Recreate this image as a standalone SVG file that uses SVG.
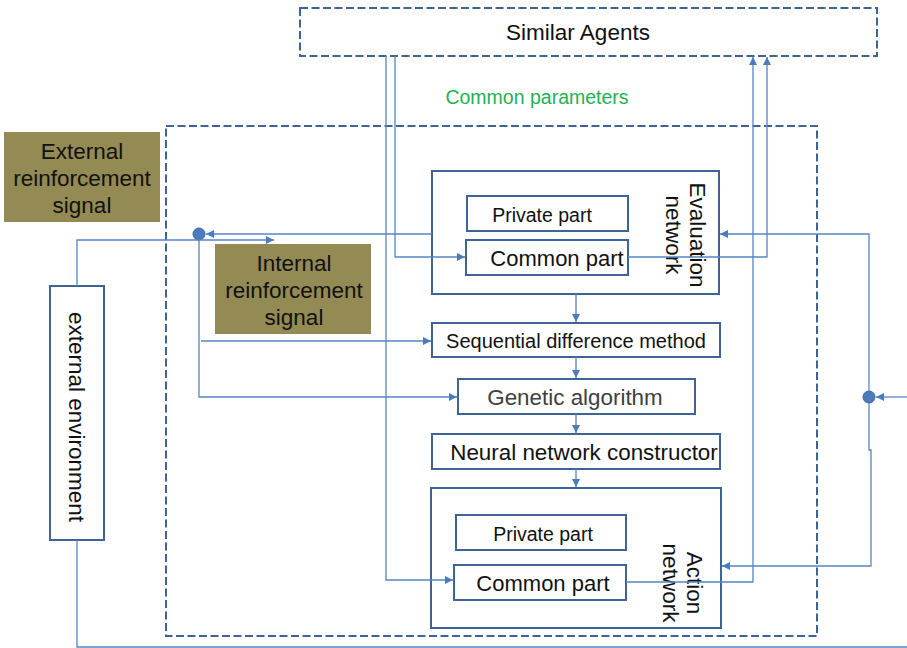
<svg xmlns="http://www.w3.org/2000/svg" width="907" height="648" viewBox="0 0 907 648">
<defs>
<style>
.box{fill:#fff;stroke:#3E6497;stroke-width:2}
.dash{fill:none;stroke:#3E6497;stroke-width:2;stroke-dasharray:8,3.5}
.olive{fill:#948A54;stroke:none}
.c{fill:none;stroke:#5585C5;stroke-width:1.3}
text{font-family:"Liberation Sans",Arial,sans-serif;fill:#111;text-anchor:middle}
.dot{fill:#4A7BBD;stroke:#3E6497;stroke-width:1}
</style>
<marker id="a" viewBox="0 0 10 10" refX="10" refY="5" markerWidth="8" markerHeight="8" markerUnits="userSpaceOnUse" orient="auto"><path d="M0,0L10,5L0,10z" fill="#4A7BBD"/></marker>
</defs>
<g id="similar-agents"><rect class="dash" x="300" y="8" width="577" height="48"/><text x="578" y="40" font-size="22.5">Similar Agents</text></g>
<g id="common-parameters"><text x="537" y="104" font-size="19.5" style="fill:#1DB34F">Common parameters</text></g>
<g id="agent-boundary"><rect class="dash" x="166" y="126" width="651" height="510"/></g>
<g id="external-signal"><rect class="olive" x="4" y="132" width="156" height="90"/><text font-size="22.5"><tspan x="82" y="159">External</tspan><tspan x="82" y="186">reinforcement</tspan><tspan x="82" y="213">signal</tspan></text></g>
<g id="internal-signal"><rect class="olive" x="215" y="244" width="156" height="90"/><text font-size="22.5"><tspan x="294" y="271">Internal</tspan><tspan x="294" y="298">reinforcement</tspan><tspan x="294" y="325">signal</tspan></text></g>
<g id="external-environment"><rect class="box" x="50" y="286" width="54" height="254"/><text transform="translate(77,417) rotate(90)" y="8" font-size="22.5">external environment</text></g>
<g id="evaluation-network"><rect class="box" x="432" y="171" width="287" height="123"/>
<rect class="box" x="467" y="196" width="161" height="35"/><text x="542" y="222" font-size="19.5">Private part</text>
<rect class="box" x="466" y="240" width="162" height="35"/><text x="557" y="266" font-size="22">Common part</text>
<text transform="translate(683,235) rotate(90)" font-size="22.5"><tspan x="0" y="-7">Evaluation</tspan><tspan x="0" y="17">network</tspan></text></g>
<g id="sequential-difference"><rect class="box" x="432" y="323" width="288" height="34"/><text x="576" y="348" font-size="20">Sequential difference method</text></g>
<g id="genetic-algorithm"><rect class="box" x="458" y="379" width="237" height="35"/><text x="575" y="405" font-size="22.4" style="fill:#404040">Genetic algorithm</text></g>
<g id="nn-constructor"><rect class="box" x="432" y="434" width="288" height="35"/><text x="584" y="460" font-size="22.4">Neural network constructor</text></g>
<g id="action-network"><rect class="box" x="431" y="488" width="290" height="140"/>
<rect class="box" x="456" y="515" width="170" height="35"/><text x="543" y="541" font-size="19.5">Private part</text>
<rect class="box" x="454" y="565" width="172" height="35"/><text x="543" y="591" font-size="22">Common part</text>
<text transform="translate(680,583) rotate(90)" font-size="22.5"><tspan x="0" y="-7">Action</tspan><tspan x="0" y="17">network</tspan></text></g>
<g id="junction-left"><circle class="dot" cx="199" cy="234" r="6"/></g>
<g id="junction-right"><circle class="dot" cx="869" cy="397" r="6"/></g>
<g id="connectors">
<path class="c" d="M432,234H206" marker-end="url(#a)"/>
<path class="c" d="M77,286V240H274" marker-end="url(#a)"/>
<path class="c" d="M199,240V397H457" marker-end="url(#a)"/>
<path class="c" d="M201,341H431" marker-end="url(#a)"/>
<path class="c" d="M395,56V257H465" marker-end="url(#a)"/>
<path class="c" d="M386,56V580H453" marker-end="url(#a)"/>
<path class="c" d="M628,257H767V57" marker-end="url(#a)"/>
<path class="c" d="M626,582H753V57" marker-end="url(#a)"/>
<path class="c" d="M576,294V322" marker-end="url(#a)"/>
<path class="c" d="M576,357V378" marker-end="url(#a)"/>
<path class="c" d="M576,414V433" marker-end="url(#a)"/>
<path class="c" d="M576,469V487" marker-end="url(#a)"/>
<path class="c" d="M907,397H876" marker-end="url(#a)"/>
<path class="c" d="M869,391V234H720" marker-end="url(#a)"/>
<path class="c" d="M869,403V450H871V566H722" marker-end="url(#a)"/>
<path class="c" d="M77,540V647H907"/>
</g>
</svg>
